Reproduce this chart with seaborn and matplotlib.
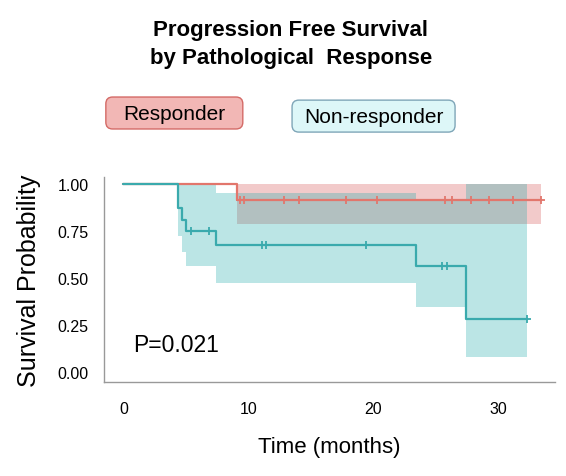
import numpy as np
import pandas as pd
import matplotlib
matplotlib.use("Agg")
import matplotlib.pyplot as plt
import matplotlib.patches as mpatches
import seaborn as sns

# step curves (time in months, survival probability)
resp_time = [0, 9.1, 33.44]
resp_surv = [1.0, 0.917, 0.917]
resp_ci_time = [9.1, 33.44]
resp_ci_low = [0.79, 0.79]
resp_ci_high = [1.0, 1.0]
resp_cens = [9.33, 9.65, 12.86, 14.06, 17.86, 20.29, 25.77, 26.36, 27.83, 29.3, 31.25, 33.44]

non_time = [0, 4.36, 4.68, 5.0, 7.43, 23.42, 27.43, 32.3]
non_surv = [1.0, 0.875, 0.8125, 0.75, 0.675, 0.5625, 0.28, 0.28]
non_ci_time = [4.36, 4.68, 5.0, 7.43, 23.42, 27.43, 32.3]
non_ci_low = [0.727, 0.64, 0.566, 0.476, 0.345, 0.077, 0.077]
non_ci_high = [1.0, 1.0, 1.0, 0.956, 0.924, 1.0, 1.0]
non_cens_time = [5.43, 6.84, 11.12, 11.39, 19.46, 25.55, 25.96, 32.3]
non_cens_surv = [0.75, 0.75, 0.675, 0.675, 0.675, 0.5625, 0.5625, 0.28]

red_line = "#E2766C"
teal_line = "#3AAAAD"
red_fill = "#D75252"
teal_fill = "#20ACAC"

sns.set_style("white")
plt.rcParams['font.family'] = ['Liberation Sans', 'DejaVu Sans']
plt.rcParams['text.color'] = 'black'
plt.rcParams['axes.labelcolor'] = 'black'
plt.rcParams['xtick.color'] = 'black'
plt.rcParams['ytick.color'] = 'black'

fig = plt.figure(figsize=(5.66, 4.77), dpi=100)
ax = fig.add_axes([0.184, 0.197, 0.797, 0.43])

# confidence bands
ax.fill_between(resp_ci_time, resp_ci_low, resp_ci_high, step='post',
                color=red_fill, alpha=0.3, linewidth=0)
ax.fill_between(non_ci_time, non_ci_low, non_ci_high, step='post',
                color=teal_fill, alpha=0.3, linewidth=0)

# survival curves
sns.lineplot(x=resp_time, y=resp_surv, drawstyle='steps-post', estimator=None,
             color=red_line, linewidth=1.6, ax=ax)
sns.lineplot(x=non_time, y=non_surv, drawstyle='steps-post', estimator=None,
             color=teal_line, linewidth=1.6, ax=ax)

# censor marks
sns.scatterplot(x=resp_cens, y=[resp_surv[-1]] * len(resp_cens), marker='+',
                color=red_line, s=30, linewidth=1.3, ax=ax)
sns.scatterplot(x=non_cens_time, y=non_cens_surv, marker='+',
                color=teal_line, s=30, linewidth=1.3, ax=ax)

ax.set_xlim(-1.55, 34.6)
ax.set_ylim(-0.055, 1.04)
ax.set_xticks([0, 10, 20, 30])
ax.set_yticks([0, 0.25, 0.5, 0.75, 1.0])
ax.set_yticklabels(['0.00', '0.25', '0.50', '0.75', '1.00'])
ax.tick_params(axis='both', labelsize=11.5, length=3, color='#999999')
ax.tick_params(axis='x', pad=11)
ax.tick_params(axis='y', pad=8)
for side in ['top', 'right']:
    ax.spines[side].set_visible(False)
for side in ['left', 'bottom']:
    ax.spines[side].set_color('#999999')
    ax.spines[side].set_linewidth(1)

ax.set_xlabel('Time (months)', fontsize=16, labelpad=14)
ax.set_ylabel('Survival Probability', fontsize=18, labelpad=12)

ax.text(0.8, 0.143, 'P=0.021', fontsize=16.5, va='center', ha='left')

# title
fig.text(0.514, 0.906, 'Progression Free Survival\nby Pathological  Response',
         ha='center', va='center', fontsize=16, fontweight='bold', linespacing=1.45)

# group label boxes
boxes = [((0.187, 0.7275), 0.242, 0.067, '#F2B7B5', '#D46A66', 'Responder'),
         ((0.516, 0.721), 0.288, 0.067, '#DDF7F8', '#7FA6B8', 'Non-responder')]
for (x0, y0), w, h, fc, ec, label in boxes:
    box = mpatches.FancyBboxPatch((x0, y0), w, h, transform=fig.transFigure,
                                  boxstyle='round,pad=0,rounding_size=0.012',
                                  mutation_aspect=566 / 477,
                                  facecolor=fc, edgecolor=ec, linewidth=1)
    fig.patches.append(box)
    fig.text(x0 + w / 2, y0 + h / 2, label, ha='center', va='center', fontsize=15)

fig.savefig('out.png', dpi=100)
